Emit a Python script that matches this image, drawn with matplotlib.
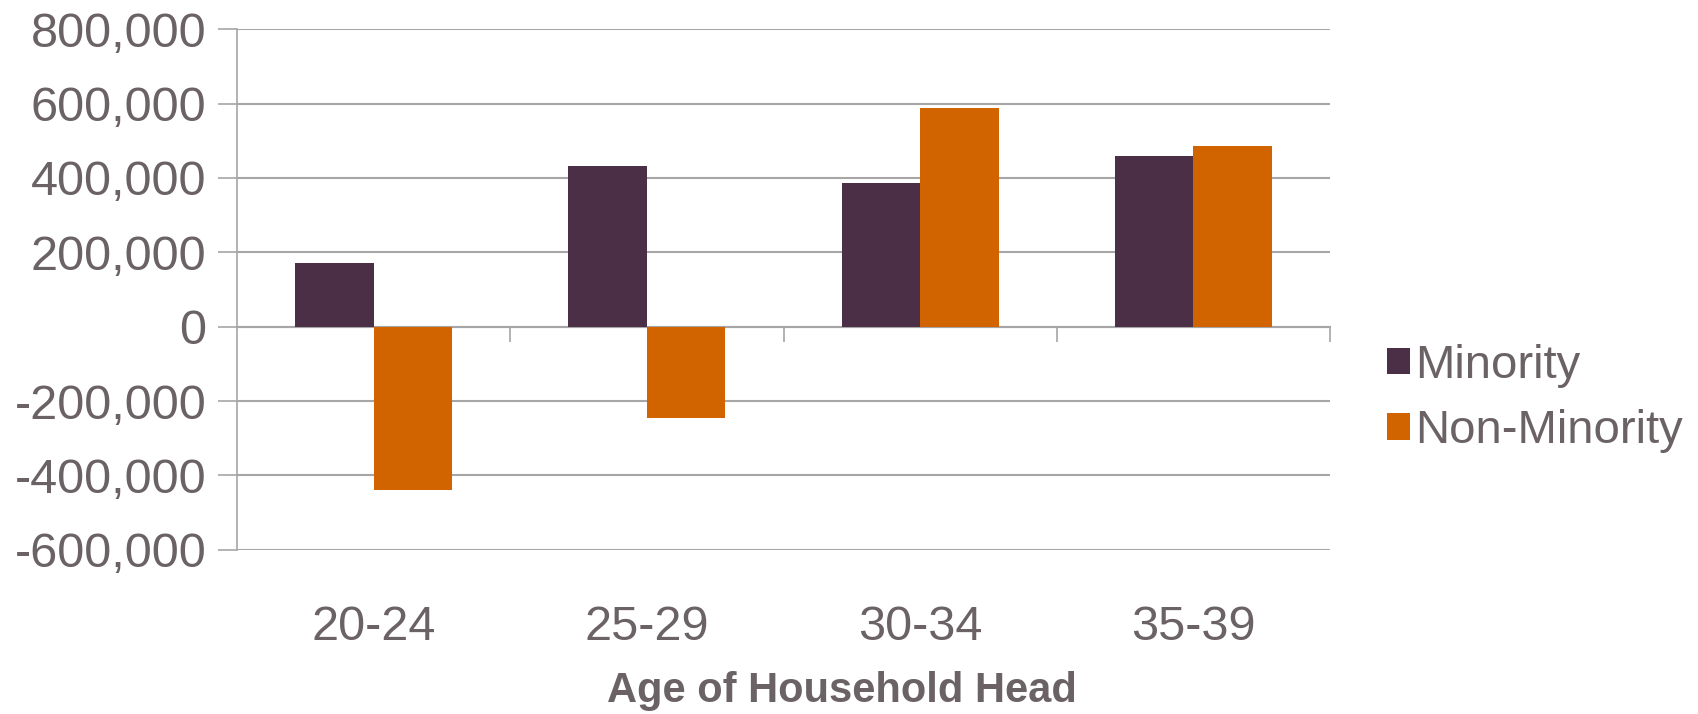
import matplotlib
matplotlib.use("Agg")
import matplotlib.pyplot as plt
from matplotlib.patches import Patch
from matplotlib.ticker import FuncFormatter
import numpy as np

age_groups = ["20-24", "25-29", "30-34", "35-39"]
minority = [172000, 433000, 387000, 458000]
non_minority = [-440000, -245000, 587000, 487000]
y_ticks = [-600000, -400000, -200000, 0, 200000, 400000, 600000, 800000]

c_min = "#4B2F46"
c_non = "#D26400"
c_text = "#6B6266"
c_grid = "#A6A6A6"

plt.rcParams["font.family"] = ["Liberation Sans", "DejaVu Sans"]

fig = plt.figure(figsize=(16.98, 7.14), dpi=100)
ax = fig.add_axes([0.1396, 0.230, 0.6437, 0.729])

x = np.arange(len(age_groups))
w = 0.2875
ax.bar(x - w / 2, minority, width=w, color=c_min, zorder=3)
ax.bar(x + w / 2, non_minority, width=w, color=c_non, zorder=3)

ax.set_xlim(-0.5, len(age_groups) - 0.5)
ax.set_ylim(y_ticks[0], y_ticks[-1])
ax.set_yticks(y_ticks)
ax.yaxis.set_major_formatter(FuncFormatter(lambda v, p: f"{int(v):,}"))
ax.yaxis.grid(True, color=c_grid, linewidth=1.5, zorder=0)
ax.tick_params(axis="y", direction="out", length=14, width=1.2, color=c_grid,
               labelsize=35, labelcolor=c_text, pad=8)

ax.set_xticks(x)
ax.set_xticklabels(age_groups)
ax.tick_params(axis="x", length=0, labelsize=35, labelcolor=c_text, pad=40)

for side in ["top", "right", "bottom"]:
    ax.spines[side].set_visible(False)
ax.spines["left"].set_color(c_grid)
ax.spines["left"].set_linewidth(1.2)

# Zero baseline with category-boundary ticks
zero_frac = (0 - y_ticks[0]) / (y_ticks[-1] - y_ticks[0])
sec = ax.secondary_xaxis(zero_frac)
sec.set_xticks(np.arange(-0.5, len(age_groups), 1.0)[1:])
sec.set_xticklabels([])
sec.tick_params(direction="out", length=11, width=1.2, color=c_grid)
sec.spines["bottom"].set_color(c_grid)
sec.spines["bottom"].set_linewidth(1.5)

ax.set_xlabel("Age of Household Head", fontsize=30, fontweight="bold",
              color=c_text)
ax.xaxis.set_label_coords(0.553, -0.233)

handles = [Patch(facecolor=c_min, label="Minority"),
           Patch(facecolor=c_non, label="Non-Minority")]
fig.legend(handles=handles, loc="center left", bbox_to_anchor=(0.8170, 0.442),
           frameon=False, fontsize=34, labelcolor=c_text, handlelength=0.48,
           handleheight=0.48, handletextpad=0.1, labelspacing=0.46,
           borderaxespad=0, borderpad=0)

fig.savefig("out.png", dpi=100, facecolor="white")
